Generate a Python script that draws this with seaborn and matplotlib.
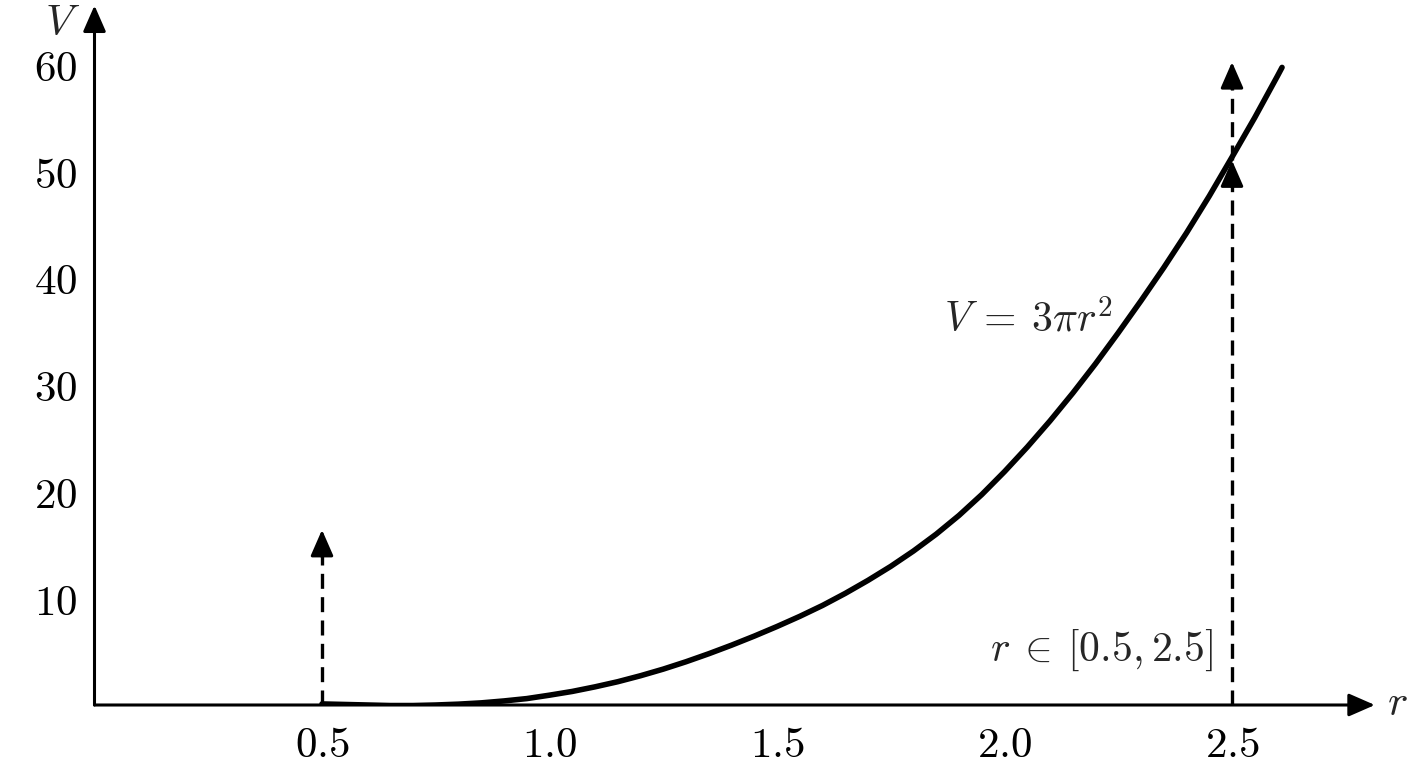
import matplotlib
matplotlib.use("Agg")
import matplotlib.pyplot as plt
import seaborn as sns

# curve values
r_vals = [0.5, 0.55, 0.6, 0.65, 0.7, 0.75, 0.8, 0.85, 0.9, 0.95,
          1.0, 1.05, 1.1, 1.15, 1.2, 1.25, 1.3, 1.35, 1.4, 1.45,
          1.5, 1.55, 1.6, 1.65, 1.7, 1.75, 1.8, 1.85, 1.9, 1.95,
          2.0, 2.05, 2.1, 2.15, 2.2, 2.25, 2.3, 2.35, 2.4, 2.45,
          2.5, 2.55, 2.6, 2.61]
v_vals = [0.1, 0.05, 0.0, -0.05, -0.05, 0.0, 0.08, 0.2, 0.38, 0.6,
          0.92, 1.27, 1.7, 2.18, 2.74, 3.36, 4.05, 4.8, 5.6, 6.45,
          7.35, 8.3, 9.32, 10.45, 11.67, 12.98, 14.42, 16.0, 17.75, 19.7,
          21.85, 24.15, 26.6, 29.2, 31.95, 34.85, 37.85, 40.95, 44.2, 47.65,
          51.3, 55.0, 58.9, 59.7]

x_ticks = [0.5, 1.0, 1.5, 2.0, 2.5]
y_ticks = [10, 20, 30, 40, 50, 60]

# dashed markers: (r, start V, end V)
dashed_arrows = [(0.5, 0, 16.4), (2.5, 0, 51), (2.5, 51, 60.2)]

sns.set_theme(style="white")
plt.rcParams["mathtext.fontset"] = "cm"
plt.rcParams["font.family"] = ["DejaVu Serif"]

fig = plt.figure(figsize=(14.08, 7.68), dpi=100)
ax = fig.add_axes([94.5 / 1408, 63 / 768, 2.85 * 455 / 1408, 66 * 10.68 / 768])

sns.lineplot(x=r_vals, y=v_vals, ax=ax, color="black", lw=4.0, sort=False)

ax.set_xlim(0, 2.85)
ax.set_ylim(0, 66)
for s in ax.spines.values():
    s.set_visible(False)

ax.set_xticks(x_ticks)
ax.set_xticklabels([f"${t:.1f}$" for t in x_ticks])
ax.set_yticks(y_ticks)
ax.set_yticklabels([f"${t}$" for t in y_ticks])
ax.tick_params(axis="both", direction="inout", length=17, width=2,
               color="black", labelsize=31, labelcolor="black")
ax.tick_params(axis="x", pad=5)
ax.tick_params(axis="y", pad=4)
ax.set_xlabel("")
ax.set_ylabel("")

# axes with arrow heads
head = "-|>,head_length=0.8,head_width=0.35"
axis_arrow = dict(arrowstyle=head, mutation_scale=20, lw=2.2,
                  color="black", shrinkA=0, shrinkB=0)
ax.annotate("", xy=(2.814, 0), xytext=(0, 0), arrowprops=axis_arrow,
            annotation_clip=False)
ax.annotate("", xy=(0, 65.5), xytext=(0, 0), arrowprops=axis_arrow,
            annotation_clip=False)

# dashed lines with solid heads
for r, v0, v1 in dashed_arrows:
    ax.plot([r, r], [v0, v1 - 1.5], color="black", lw=2.4,
            linestyle=(0, (4.5, 2.5)), clip_on=False)
    ax.annotate("", xy=(r, v1), xytext=(r, v1 - 2.5), arrowprops=axis_arrow,
                annotation_clip=False)

ax.text(-0.071, 63.9, "$V$", fontsize=31, ha="center", va="center",
        clip_on=False)
ax.text(2.863, 0.2, "$r$", fontsize=31, ha="center", va="center",
        clip_on=False)
ax.text(2.239, 36.0, r"$V\:=\:3\pi r^2$", fontsize=30, ha="right",
        va="center")
ax.text(2.458, 5.1, r"$r\:\in\:[0.5,2.5]$", fontsize=30, ha="right",
        va="center")

fig.savefig("out.png", dpi=100)
